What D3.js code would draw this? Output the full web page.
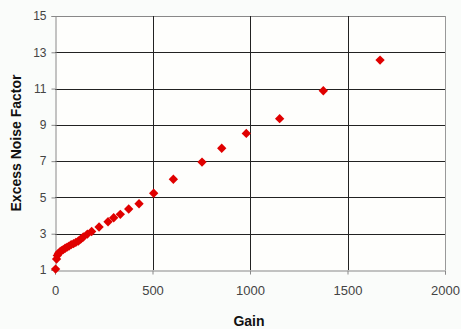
<!DOCTYPE html>
<html>
<head>
<meta charset="utf-8">
<script src="https://cdn.jsdelivr.net/npm/d3@7"></script>
<style>
  body { margin: 0; background: #fafcfa; }
  svg { display: block; font-family: 'Liberation Sans', Arial, sans-serif; }
  .tick text { fill: #444; }
  .x-axis .tick text { font-size: 13px; }
  .y-axis .tick text { font-size: 12px; }
</style>
</head>
<body>
<div id="chart"></div>
<script>
const width = 461;
const height = 329;

// gain vs excess noise factor
const gain = [3, 8, 12, 18, 25, 33, 42, 52, 62, 72, 83, 95, 107, 120, 132, 145, 166, 188,
  226, 272, 301, 335, 378, 431, 506, 607, 754, 855, 981, 1152, 1376, 1667];
const noise = [1.05, 1.6, 1.8, 1.92, 2.0, 2.06, 2.12, 2.2, 2.26, 2.32, 2.4, 2.45, 2.52, 2.6, 2.7, 2.82, 2.98, 3.12,
  3.37, 3.66, 3.88, 4.07, 4.36, 4.65, 5.23, 6.0, 6.95, 7.71, 8.53, 9.34, 10.88, 12.57];
const xTicks = [0, 500, 1000, 1500, 2000];
const yTicks = [1, 3, 5, 7, 9, 11, 13, 15];

const margin = { top: 16, right: 16, bottom: 59, left: 55 };

const svg = d3
  .select('#chart')
  .append('svg')
  .attr('width', width)
  .attr('height', height);

const x = d3.scaleLinear().domain([0, 2000]).range([margin.left, width - margin.right]);
const y = d3.scaleLinear().domain([1, 15]).range([height - margin.bottom, margin.top]);

svg.append('rect')
  .attr('x', margin.left)
  .attr('y', margin.top)
  .attr('width', x(2000) - x(0))
  .attr('height', y(1) - y(15))
  .attr('fill', '#fefefc');

// grid
svg.append('g')
  .selectAll('line')
  .data(yTicks.slice(1))
  .join('line')
  .attr('x1', x(0))
  .attr('x2', x(2000))
  .attr('y1', (d) => Math.round(y(d)) + 0.5)
  .attr('y2', (d) => Math.round(y(d)) + 0.5)
  .attr('stroke', (d) => (d === 15 ? '#888' : '#222'));

svg.append('g')
  .selectAll('line')
  .data(xTicks.slice(1))
  .join('line')
  .attr('x1', (d) => Math.round(x(d)) + 0.5)
  .attr('x2', (d) => Math.round(x(d)) + 0.5)
  .attr('y1', y(1))
  .attr('y2', y(15))
  .attr('stroke', (d) => (d === 2000 ? '#999' : '#222'));

// axes
const xAxis = svg.append('g')
  .attr('class', 'x-axis')
  .attr('transform', `translate(0,${Math.round(y(1)) + 0.5})`)
  .call(d3.axisBottom(x).tickValues(xTicks).tickFormat(d3.format('d')).tickSize(4).tickPadding(11));
const yAxis = svg.append('g')
  .attr('class', 'y-axis')
  .attr('transform', `translate(${Math.round(x(0)) + 0.5},0)`)
  .call(d3.axisLeft(y).tickValues(yTicks).tickSize(4).tickPadding(5));
[xAxis, yAxis].forEach((a) => {
  a.select('.domain').attr('stroke', '#888');
  a.selectAll('.tick line').attr('stroke', '#888');
  a.selectAll('.tick text').attr('font-family', null).attr('font-size', null);
});
xAxis.attr('font-size', null);
yAxis.attr('font-size', null);

// points
svg.append('g')
  .selectAll('path')
  .data(gain)
  .join('path')
  .attr('transform', (d, i) => `translate(${x(d)},${y(noise[i])}) rotate(45)`)
  .attr('d', 'M-3.3,-3.3H3.3V3.3H-3.3Z')
  .attr('fill', '#e00000');

// titles
svg.append('text')
  .attr('x', (x(0) + x(2000)) / 2 - 1)
  .attr('y', 322)
  .attr('text-anchor', 'middle')
  .attr('dominant-baseline', 'middle')
  .attr('font-weight', 'bold')
  .attr('font-size', 14)
  .attr('fill', '#111')
  .text('Gain');

svg.append('text')
  .attr('transform', `translate(17,${(y(1) + y(15)) / 2}) rotate(-90)`)
  .attr('text-anchor', 'middle')
  .attr('dominant-baseline', 'middle')
  .attr('font-weight', 'bold')
  .attr('font-size', 14)
  .attr('fill', '#111')
  .text('Excess Noise Factor');
</script>
</body>
</html>
